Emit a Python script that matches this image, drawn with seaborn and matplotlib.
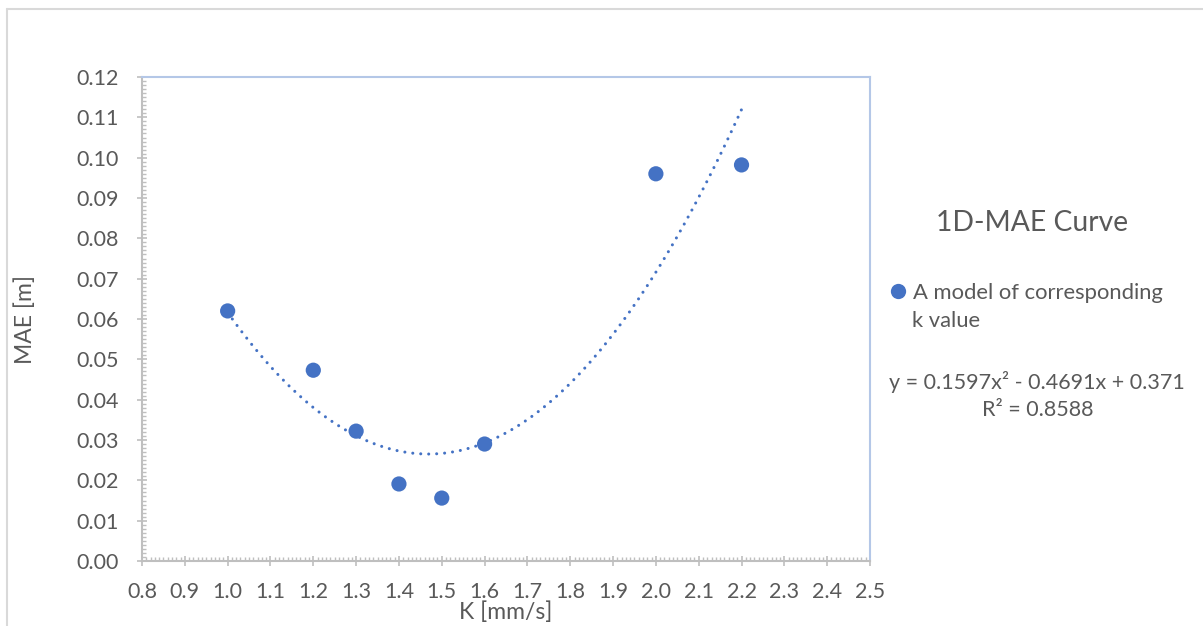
import numpy as np
import pandas as pd
import matplotlib
matplotlib.use("Agg")
import matplotlib.pyplot as plt
from matplotlib.lines import Line2D
from matplotlib.ticker import MultipleLocator, FormatStrFormatter
import seaborn as sns

# Measured mean absolute error for each k setting
k_values = [1.0, 1.2, 1.3, 1.4, 1.5, 1.6, 2.0, 2.2]
mae_values = [0.0620, 0.0473, 0.0322, 0.0191, 0.0156, 0.0290, 0.0960, 0.0982]

# Quadratic trendline coefficients (a, b, c) and goodness of fit
trend_coef = [0.1597, -0.4691, 0.371]
r_squared = 0.8588

chart_title = "1D-MAE Curve"
series_label = "A model of corresponding"
series_label_cont = "k value"
x_label = "K [mm/s]"
y_label = "MAE [m]"

BLUE = "#4472C4"
TEXT = "#595959"
AXIS_GRAY = "#BFBFBF"
FRAME_BLUE = "#B4C7E7"

sns.set_theme(style="white")
plt.rcParams["font.family"] = ["Lato", "DejaVu Sans"]

df = pd.DataFrame({"k": k_values, "mae": mae_values})
k_fit = np.linspace(min(k_values), max(k_values), 200)
a, b, c = trend_coef
trend = pd.DataFrame({"k": k_fit, "mae": a * k_fit**2 + b * k_fit + c})

fig = plt.figure(figsize=(12.03, 6.26), dpi=100)
ax = fig.add_axes([142 / 1203, 1 - 561 / 626, (870 - 142) / 1203, (561 - 77) / 626])

sns.lineplot(data=trend, x="k", y="mae", ax=ax, color=BLUE, linewidth=2.2,
             linestyle=(0, (0.01, 2.6)), dash_capstyle="round", zorder=2)
sns.scatterplot(data=df, x="k", y="mae", ax=ax, color=BLUE, s=120,
                edgecolor="none", zorder=3)

ax.set_xlim(0.8, 2.5)
ax.set_ylim(0.0, 0.12)
ax.xaxis.set_major_locator(MultipleLocator(0.1))
ax.xaxis.set_minor_locator(MultipleLocator(0.01))
ax.yaxis.set_major_locator(MultipleLocator(0.01))
ax.yaxis.set_minor_locator(MultipleLocator(0.001))
ax.xaxis.set_major_formatter(FormatStrFormatter("%.1f"))
ax.yaxis.set_major_formatter(FormatStrFormatter("%.2f"))

ax.tick_params(axis="both", which="major", direction="inout", length=7,
               width=1.2, color=AXIS_GRAY, labelcolor=TEXT, labelsize=15.5)
ax.tick_params(axis="y", which="major", pad=13.5)
ax.tick_params(axis="x", which="major", pad=11.5)
ax.tick_params(axis="both", which="minor", direction="in", length=3,
               width=1.0, color=AXIS_GRAY)
ax.tick_params(bottom=True, left=True, which="both")

for side in ("left", "bottom"):
    ax.spines[side].set_color(AXIS_GRAY)
    ax.spines[side].set_linewidth(1.5)
for side in ("top", "right"):
    ax.spines[side].set_color(FRAME_BLUE)
    ax.spines[side].set_linewidth(1.5)

ax.set_xlabel(x_label, fontsize=16.5, color=TEXT)
ax.set_ylabel(y_label, fontsize=16.5, color=TEXT)
ax.xaxis.set_label_coords(0.5, -0.084)
ax.yaxis.set_label_coords(-0.146, 0.5)

# Side panel: title, series key and trendline equation
fig.text(1032 / 1203, 1 - 223 / 626, chart_title, fontsize=20.3, color=TEXT,
         ha="center", va="center")
handle = Line2D([], [], marker="o", linestyle="none", markersize=11,
                markerfacecolor=BLUE, markeredgecolor="none")
fig.legend([handle], [series_label], loc="center left",
           bbox_to_anchor=(889 / 1203, 1 - 293 / 626), frameon=False,
           fontsize=15.8, labelcolor=TEXT, handletextpad=0.3, handlelength=0.8,
           borderpad=0, borderaxespad=0)
fig.text(912 / 1203, 1 - 321 / 626, series_label_cont, fontsize=15.8,
         color=TEXT, ha="left", va="center")

eq = f"y = {a:.4f}x² - {abs(b):.4f}x + {c:.3f}"
fig.text(1037 / 1203, 1 - 382 / 626, eq, fontsize=15.5, color=TEXT,
         ha="center", va="center")
fig.text(1038 / 1203, 1 - 410 / 626, f"R² = {r_squared:.4f}", fontsize=15.5,
         color=TEXT, ha="center", va="center")

# Chart frame edges
fig.add_artist(Line2D([7 / 1203, 7 / 1203], [0, 1 - 9 / 626],
                      transform=fig.transFigure, color="#D9D9D9", linewidth=1.5))
fig.add_artist(Line2D([7 / 1203, 1], [1 - 9 / 626, 1 - 9 / 626],
                      transform=fig.transFigure, color="#D9D9D9", linewidth=1.5))

fig.savefig("out.png", dpi=100)
